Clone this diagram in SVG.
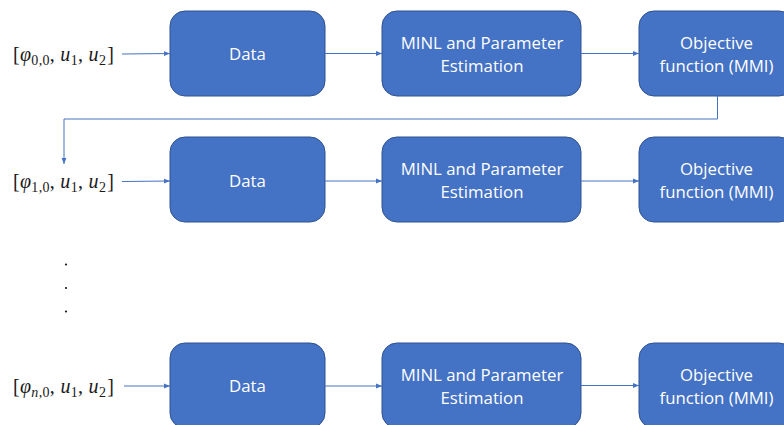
<svg xmlns="http://www.w3.org/2000/svg" width="784" height="425" viewBox="0 0 784 425">
  <defs>
    <marker id="arr" viewBox="0 0 10 10" refX="10" refY="5" markerWidth="6" markerHeight="6" orient="auto" markerUnits="userSpaceOnUse">
      <path d="M0,1 L10,5 L0,9 z" fill="#4472C4"/>
    </marker>
    <style>
      .box { fill: #4472C4; stroke: #2F528F; stroke-width: 1; }
      .lbl { fill: #FFFFFF; font-family: "Open Sans", "Noto Sans", sans-serif; font-size: 16.8px; text-anchor: middle; }
      .math { fill: #1A1A1A; font-family: "Liberation Serif", "DejaVu Serif", serif; font-size: 20px; font-style: italic; letter-spacing: 0.3px; }
      .up { font-style: normal; }
      .sub { font-size: 14px; }
      .conn { fill: none; stroke: #4472C4; stroke-width: 1; }
      .dot { fill: #1A1A1A; }
    </style>
  </defs>

  <rect width="784" height="425" fill="#FFFFFF"/>

  <!-- input vectors -->
  <g id="in0">
    <text class="math" x="13" y="61"><tspan class="up">[</tspan>φ<tspan class="sub up" dy="4">0,0</tspan><tspan dy="-4" class="up">, </tspan>u<tspan class="sub up" dy="4">1</tspan><tspan dy="-4" class="up">, </tspan>u<tspan class="sub up" dy="4">2</tspan><tspan dy="-4" class="up" dx="1">]</tspan></text>
  </g>
  <g id="in1">
    <text class="math" x="13" y="188"><tspan class="up">[</tspan>φ<tspan class="sub up" dy="4">1,0</tspan><tspan dy="-4" class="up">, </tspan>u<tspan class="sub up" dy="4">1</tspan><tspan dy="-4" class="up">, </tspan>u<tspan class="sub up" dy="4">2</tspan><tspan dy="-4" class="up" dx="1">]</tspan></text>
  </g>
  <g id="inN">
    <text class="math" x="13" y="393"><tspan class="up">[</tspan>φ<tspan class="sub" dy="4">n</tspan><tspan class="sub up">,0</tspan><tspan dy="-4" class="up">, </tspan>u<tspan class="sub up" dy="4">1</tspan><tspan dy="-4" class="up">, </tspan>u<tspan class="sub up" dy="4">2</tspan><tspan dy="-4" class="up" dx="1">]</tspan></text>
  </g>

  <!-- vertical ellipsis between rows -->
  <g id="ellipsis">
    <circle class="dot" cx="66" cy="264.5" r="1.1"/>
    <circle class="dot" cx="66" cy="288" r="1.1"/>
    <circle class="dot" cx="66" cy="311.5" r="1.1"/>
  </g>

  <!-- row 1 -->
  <g id="data0"><rect class="box" x="170" y="11" width="155" height="85" rx="15"/><text class="lbl" x="247.5" y="60">Data</text></g>
  <g id="minl0"><rect class="box" x="382" y="11" width="199" height="85" rx="15"/><text class="lbl" x="482" y="49">MINL and Parameter</text><text class="lbl" x="482" y="72">Estimation</text></g>
  <g id="obj0"><rect class="box" x="639" y="11" width="155" height="85" rx="15"/><text class="lbl" x="716.5" y="49">Objective</text><text class="lbl" x="716.5" y="72">function (MMI)</text></g>

  <!-- row 2 -->
  <g id="data1"><rect class="box" x="170" y="137" width="155" height="85" rx="15"/><text class="lbl" x="247.5" y="187">Data</text></g>
  <g id="minl1"><rect class="box" x="382" y="137" width="199" height="85" rx="15"/><text class="lbl" x="482" y="175">MINL and Parameter</text><text class="lbl" x="482" y="198">Estimation</text></g>
  <g id="obj1"><rect class="box" x="639" y="137" width="155" height="85" rx="15"/><text class="lbl" x="716.5" y="175">Objective</text><text class="lbl" x="716.5" y="198">function (MMI)</text></g>

  <!-- row n -->
  <g id="dataN"><rect class="box" x="170" y="343" width="155" height="85" rx="15"/><text class="lbl" x="247.5" y="392">Data</text></g>
  <g id="minlN"><rect class="box" x="382" y="343" width="199" height="85" rx="15"/><text class="lbl" x="482" y="381">MINL and Parameter</text><text class="lbl" x="482" y="404">Estimation</text></g>
  <g id="objN"><rect class="box" x="639" y="343" width="155" height="85" rx="15"/><text class="lbl" x="716.5" y="381">Objective</text><text class="lbl" x="716.5" y="404">function (MMI)</text></g>

  <!-- connectors -->
  <g id="connectors">
    <path class="conn" d="M122,54 L170,53.5" marker-end="url(#arr)"/>
    <path class="conn" d="M325,53.5 L382,53.5" marker-end="url(#arr)"/>
    <path class="conn" d="M581,53.5 L639,53.5" marker-end="url(#arr)"/>
    <path class="conn" d="M717.5,96 L717.5,119 L64,119 L64,164" marker-end="url(#arr)"/>

    <path class="conn" d="M122,181.5 L170,181" marker-end="url(#arr)"/>
    <path class="conn" d="M325,181 L382,181" marker-end="url(#arr)"/>
    <path class="conn" d="M581,181 L639,181" marker-end="url(#arr)"/>

    <path class="conn" d="M124,386 L170,386" marker-end="url(#arr)"/>
    <path class="conn" d="M325,386 L382,386" marker-end="url(#arr)"/>
    <path class="conn" d="M581,385.5 L639,385.5" marker-end="url(#arr)"/>
  </g>
</svg>
